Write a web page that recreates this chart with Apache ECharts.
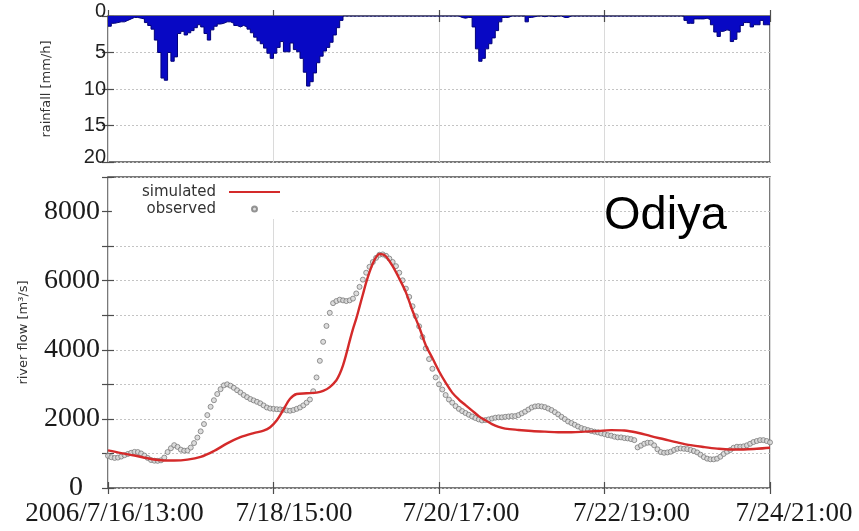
<!DOCTYPE html>
<html>
<head>
<meta charset="utf-8">
<script src="https://cdn.jsdelivr.net/npm/echarts@6/dist/echarts.min.js"></script>
<style>
  html, body { margin: 0; padding: 0; background: #fff; }
  #chart { width: 859px; height: 531px; }
</style>
</head>
<body>
<div id="chart"></div>
<script>
// Hourly rainfall [mm/h], hour 0 = 2006/7/16 13:00
const rainfall = [
  1.4, 1.0, 0.9, 0.8, 0.8, 0.6, 0.4, 0.2, 0.2, 0.3,
  0.4, 0.9, 1.3, 1.8, 3.3, 5.0, 8.5, 8.8, 5.0, 6.2,
  5.6, 2.4, 2.1, 2.6, 2.3, 2.0, 1.6, 1.2, 1.5, 2.4,
  3.3, 1.9, 1.4, 1.1, 1.0, 0.8, 0.8, 1.0, 1.3, 1.5,
  1.3, 1.5, 1.8, 2.3, 2.9, 3.4, 3.8, 4.4, 5.1, 5.8,
  5.1, 4.3, 3.5, 4.9, 4.9, 3.7, 4.6, 4.9, 5.8, 7.7,
  9.6, 9.0, 7.8, 6.4, 5.5, 4.8, 4.3, 3.6, 2.6, 1.6,
  0.6, 0, 0, 0, 0, 0, 0, 0, 0, 0,
  0, 0, 0, 0, 0, 0, 0, 0, 0, 0,
  0, 0, 0, 0, 0, 0, 0, 0, 0, 0,
  0, 0, 0, 0, 0, 0, 0.2, 0.3, 0.2, 0.2,
  1.5, 4.5, 6.2, 5.8, 4.5, 3.8, 3.0, 2.0, 0.8, 0.2,
  0.2, 0, 0, 0, 0, 0, 0.8, 0.2, 0.1, 0,
  0, 0.1, 0, 0, 0.1, 0, 0, 0.2, 0.2, 0,
  0, 0, 0, 0, 0, 0, 0, 0, 0, 0,
  0, 0, 0, 0, 0, 0, 0, 0, 0, 0,
  0, 0, 0, 0, 0, 0, 0, 0, 0, 0,
  0, 0, 0, 0, 0.6, 1.0, 1.0, 0.4, 0.4, 0.4,
  0.3, 0.5, 1.2, 2.2, 2.8, 2.1, 1.9, 2.0, 3.5, 3.2,
  2.2, 1.3, 0.9, 0.9, 1.5, 1.2, 1.2, 0.6, 1.2, 1.2
];

// Observed river flow [m3/s], one value per hour from hour 0 to hour 200
const observedFlow = [
  930, 890, 870, 880, 910, 950, 985, 1020, 1045, 1040,
  1000, 940, 870, 810, 790, 785, 800, 880, 1040, 1150,
  1240, 1190, 1110, 1080, 1085, 1170, 1300, 1460, 1640, 1850,
  2110, 2350, 2540, 2720, 2860, 2970, 3000, 2960, 2900, 2830,
  2765, 2690, 2630, 2575, 2535, 2495, 2450, 2390, 2330, 2300,
  2290, 2280, 2275, 2265, 2245, 2235, 2255, 2290, 2330, 2390,
  2470, 2560, 2800, 3200, 3680, 4230, 4690, 5070, 5350, 5410,
  5450, 5430, 5410, 5430, 5480, 5630, 5820, 6030, 6230, 6400,
  6540, 6660, 6750, 6760, 6720, 6640, 6540, 6420, 6230, 6010,
  5770, 5530, 5260, 4970, 4680, 4370, 4040, 3730, 3450, 3200,
  3000, 2850, 2690, 2560, 2470, 2370, 2290, 2225, 2170, 2120,
  2070, 2025, 1985, 1955, 1965, 1985, 2010, 2035, 2045, 2045,
  2060, 2070, 2080, 2080, 2110, 2160, 2210, 2270, 2330, 2360,
  2370, 2360, 2340, 2300, 2255, 2195, 2130, 2060, 1995, 1925,
  1880, 1830, 1780, 1735, 1705, 1675, 1650, 1630, 1610, 1580,
  1560, 1530, 1515, 1485, 1465, 1465, 1445, 1435, 1415, 1385,
  1175, 1225, 1280, 1310, 1310, 1235, 1120, 1040, 1020, 1030,
  1050, 1100, 1135, 1145, 1135, 1125, 1100, 1070, 1030, 965,
  895, 850, 830, 830, 850, 905, 985, 1050, 1100, 1165,
  1195, 1195, 1205, 1235, 1280, 1330, 1360, 1385, 1385, 1360,
  1320
];

// Simulated river flow [m3/s] as [hour, flow]
const simulatedFlow = [
  [0, 1090], [4, 1010], [8, 940], [12, 860], [16, 805], [20, 795],
  [24, 820], [28, 900], [32, 1070], [36, 1290], [40, 1470], [44, 1590],
  [47, 1660], [49, 1760], [51, 1960], [53, 2270], [55, 2580], [57, 2720],
  [60, 2740], [63, 2760], [65, 2810], [67, 2920], [69, 3120], [70, 3300],
  [71, 3550], [72, 3880], [73, 4250], [74, 4600], [75, 4900], [76, 5250],
  [77, 5600], [78, 5950], [79, 6250], [80, 6500], [81, 6680], [82, 6770],
  [83, 6760], [84, 6700], [86, 6420], [88, 6060], [90, 5660], [92, 5130],
  [94, 4660], [96, 4130], [98, 3760], [100, 3380], [102, 3050], [104, 2760],
  [106, 2560], [108, 2400], [110, 2240], [112, 2080], [114, 1960], [116, 1850],
  [118, 1770], [120, 1720], [124, 1680], [128, 1650], [132, 1630], [136, 1615],
  [140, 1615], [144, 1630], [148, 1650], [152, 1675], [156, 1665], [160, 1600],
  [164, 1500], [168, 1410], [172, 1320], [176, 1240], [180, 1185], [184, 1140],
  [188, 1115], [192, 1115], [196, 1135], [200, 1165]
];

// Time-axis labels at every 50 hours
const timeLabels = ['2006/7/16/13:00', '7/18/15:00', '7/20/17:00', '7/22/19:00', '7/24/21:00'];
const stationName = 'Odiya';
const seriesNames = ['simulated', 'observed'];

const chart = echarts.init(document.getElementById('chart'), null, { renderer: 'canvas' });

const FRAME = '#4d4d4d';
const RAIN = '#0808c4';
const tickStyle = { show: true, inside: true, length: 6, lineStyle: { color: FRAME, width: 1.2 } };
const hSplit = { show: true, lineStyle: { color: '#c4c4c4', width: 1, type: [2, 2] } };
const vSplit = { show: true, lineStyle: { color: '#dadada', width: 1 } };
const serif = 'Liberation Serif';
const sans = 'DejaVu Sans';

// each hourly total holds from the start of its hour to the start of the next
const rainSteps = rainfall.map((v, i) => [i, v]);
rainSteps.push([rainfall.length, rainfall[rainfall.length - 1]]);
const observedPoints = observedFlow.map((q, i) => [i, q]);

// shift of each time label to the right of its tick (px)
const labelShift = [13, 41, 44, 54, 48];
const timeRich = {};
labelShift.forEach((p, i) => {
  timeRich['t' + i] = { fontFamily: serif, fontSize: 27, color: '#1a1a1a', padding: [0, 0, 0, p] };
});

function timeAxis(gridIndex, position, withLabels) {
  return {
    type: 'value', gridIndex: gridIndex, position: position,
    min: 0, max: 200, interval: 50,
    axisLine: { show: false },
    axisTick: tickStyle,
    splitLine: position === 'bottom' ? vSplit : { show: false },
    axisLabel: withLabels ? {
      show: true, margin: 12,
      formatter: function (v) {
        const i = Math.round(v / 50);
        return '{t' + i + '|' + timeLabels[i] + '}';
      },
      rich: timeRich
    } : { show: false }
  };
}

const option = {
  animation: false,
  backgroundColor: '#fff',
  title: {
    text: stationName, left: 604, top: 193, padding: 0,
    textStyle: { fontFamily: 'Liberation Sans', fontSize: 47, fontWeight: 'normal', color: '#000' }
  },
  legend: {
    orient: 'vertical', align: 'right', right: 569, top: 178,
    padding: [6, 9, 2, 30], itemGap: 1, itemWidth: 51, itemHeight: 5,
    backgroundColor: '#fff', selectedMode: false,
    textStyle: { fontFamily: sans, fontSize: 15, color: '#333', lineHeight: 16, padding: [0, 8, 0, 0] },
    data: [
      { name: seriesNames[0], itemStyle: { color: 'rgba(0,0,0,0)', borderColor: 'rgba(0,0,0,0)', borderWidth: 0 } },
      { name: seriesNames[1] }
    ]
  },
  grid: [
    { left: 108, right: 89, top: 16, height: 146, show: true, borderColor: FRAME, borderWidth: 1.5, backgroundColor: 'transparent' },
    { left: 108, right: 89, top: 177, height: 311, show: true, borderColor: FRAME, borderWidth: 1.5, backgroundColor: 'transparent' }
  ],
  xAxis: [
    timeAxis(0, 'bottom', false),
    timeAxis(0, 'top', false),
    timeAxis(1, 'bottom', true),
    timeAxis(1, 'top', false)
  ],
  yAxis: [
    {
      type: 'value', gridIndex: 0, inverse: true, min: 0, max: 20, interval: 5,
      axisLine: { show: false }, axisTick: tickStyle, splitLine: hSplit,
      name: 'rainfall [mm/h]', nameLocation: 'middle', nameGap: 55,
      nameTextStyle: { fontFamily: sans, fontSize: 13, color: '#333' },
      axisLabel: {
        margin: 2,
        formatter: function (v) {
          if (v === 0) return '{lo|0}';
          if (v === 20) return '{lo|20}';
          return '{n|' + v + '}';
        },
        rich: {
          n: { fontFamily: 'Liberation Sans', fontSize: 20, color: '#222' },
          lo: { fontFamily: 'Liberation Sans', fontSize: 20, color: '#222', padding: [0, 0, 10, 0] }
        }
      }
    },
    {
      type: 'value', gridIndex: 0, position: 'right', inverse: true, min: 0, max: 20, interval: 5,
      axisLine: { show: false }, axisTick: tickStyle, splitLine: { show: false }, axisLabel: { show: false }
    },
    {
      type: 'value', gridIndex: 1, min: 0, max: 9000, interval: 1000,
      axisLine: { show: false }, axisTick: tickStyle, splitLine: hSplit,
      name: 'river flow [m³/s]', nameLocation: 'middle', nameGap: 78,
      nameTextStyle: { fontFamily: sans, fontSize: 13, color: '#333' },
      axisLabel: {
        margin: 8,
        formatter: function (v) {
          if (v % 2000 !== 0) return '';
          return v === 0 ? '{z|0}' : '{n|' + v + '}';
        },
        rich: {
          n: { fontFamily: serif, fontSize: 28, color: '#1a1a1a' },
          z: { fontFamily: serif, fontSize: 28, color: '#1a1a1a', padding: [0, 17, 0, 0] }
        }
      }
    },
    {
      type: 'value', gridIndex: 1, position: 'right', min: 0, max: 9000, interval: 1000,
      axisLine: { show: false }, axisTick: tickStyle, splitLine: { show: false }, axisLabel: { show: false }
    }
  ],
  series: [
    {
      name: 'rainfall', type: 'line', xAxisIndex: 0, yAxisIndex: 0,
      data: rainSteps, step: 'end', symbol: 'none', showSymbol: false,
      lineStyle: { color: '#00007a', width: 1 },
      areaStyle: { color: RAIN, opacity: 1 }
    },
    {
      name: seriesNames[0], type: 'line', xAxisIndex: 2, yAxisIndex: 2,
      data: simulatedFlow, smooth: 0.35, symbol: 'none', showSymbol: false,
      lineStyle: { color: '#d42a2a', width: 2.4 }, itemStyle: { color: '#d42a2a' }
    },
    {
      name: seriesNames[1], type: 'scatter', xAxisIndex: 2, yAxisIndex: 2,
      data: observedPoints, symbol: 'circle', symbolSize: 5,
      itemStyle: { color: '#d4d4d4', borderColor: '#7a7a7a', borderWidth: 1 }
    }
  ]
};

chart.setOption(option);
</script>
</body>
</html>
